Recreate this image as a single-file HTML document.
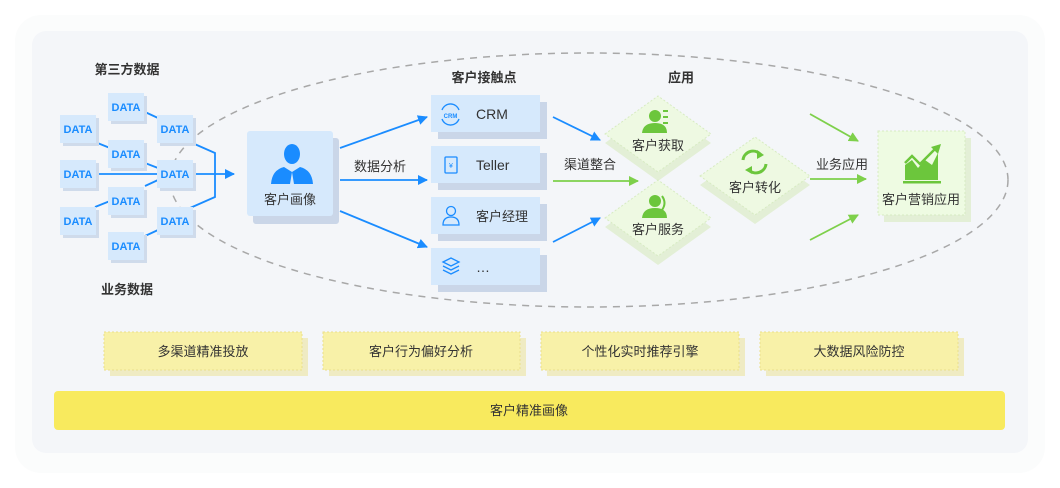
<!DOCTYPE html>
<html><head><meta charset="utf-8"><style>
html,body{margin:0;padding:0;background:#fff;}
svg{display:block;font-family:"Liberation Sans","Noto Sans CJK SC",sans-serif;}
</style></head><body>
<svg width="1060" height="488" viewBox="0 0 1060 488" xmlns="http://www.w3.org/2000/svg">
<defs>
<marker id="ab" markerWidth="10" markerHeight="10" refX="9" refY="5" orient="auto" markerUnits="userSpaceOnUse"><path d="M0,0 L10,5 L0,10 z" fill="#1a8cff"/></marker>
<marker id="ag" markerWidth="10" markerHeight="10" refX="9" refY="5" orient="auto" markerUnits="userSpaceOnUse"><path d="M0,0 L10,5 L0,10 z" fill="#7ed04b"/></marker>
</defs>
<rect x="15" y="15" width="1030" height="458" rx="26" fill="#fbfcfc"/>
<rect x="32" y="31" width="996" height="422" rx="14" fill="#f4f6f9"/>
<ellipse cx="589" cy="180" rx="419" ry="127" fill="none" stroke="#a8a8a8" stroke-width="1.5" stroke-dasharray="7,6"/>

<g font-size="13" font-weight="bold" fill="#333" text-anchor="middle">
<text x="127" y="74">第三方数据</text>
<text x="127" y="294">业务数据</text>
<text x="484" y="82">客户接触点</text>
<text x="681" y="82">应用</text>
</g>

<g stroke="#1a8cff" stroke-width="1.8" fill="none">
<line x1="95" y1="142" x2="110" y2="148"/>
<line x1="95" y1="174" x2="158" y2="174"/>
<line x1="95" y1="207" x2="110" y2="201"/>
<line x1="145" y1="112" x2="158" y2="118"/>
<line x1="145" y1="163" x2="158" y2="168"/>
<line x1="145" y1="186" x2="158" y2="180"/>
<line x1="145" y1="236" x2="158" y2="230"/>
<path d="M190,142 L215,153 L215,197 L190,208"/>
<line x1="193" y1="174" x2="234" y2="174" marker-end="url(#ab)"/>
</g>
<g font-size="11" font-weight="bold" fill="#1a8cff" text-anchor="middle">
<g transform="translate(60,115)"><rect x="3" y="3" width="36" height="28" fill="#cfdbeb"/><rect width="36" height="28" fill="#d6e9fc"/><text x="18" y="18">DATA</text></g>
<g transform="translate(60,160)"><rect x="3" y="3" width="36" height="28" fill="#cfdbeb"/><rect width="36" height="28" fill="#d6e9fc"/><text x="18" y="18">DATA</text></g>
<g transform="translate(60,207)"><rect x="3" y="3" width="36" height="28" fill="#cfdbeb"/><rect width="36" height="28" fill="#d6e9fc"/><text x="18" y="18">DATA</text></g>
<g transform="translate(108,93)"><rect x="3" y="3" width="36" height="28" fill="#cfdbeb"/><rect width="36" height="28" fill="#d6e9fc"/><text x="18" y="18">DATA</text></g>
<g transform="translate(108,140)"><rect x="3" y="3" width="36" height="28" fill="#cfdbeb"/><rect width="36" height="28" fill="#d6e9fc"/><text x="18" y="18">DATA</text></g>
<g transform="translate(108,187)"><rect x="3" y="3" width="36" height="28" fill="#cfdbeb"/><rect width="36" height="28" fill="#d6e9fc"/><text x="18" y="18">DATA</text></g>
<g transform="translate(108,232)"><rect x="3" y="3" width="36" height="28" fill="#cfdbeb"/><rect width="36" height="28" fill="#d6e9fc"/><text x="18" y="18">DATA</text></g>
<g transform="translate(157,115)"><rect x="3" y="3" width="36" height="28" fill="#cfdbeb"/><rect width="36" height="28" fill="#d6e9fc"/><text x="18" y="18">DATA</text></g>
<g transform="translate(157,160)"><rect x="3" y="3" width="36" height="28" fill="#cfdbeb"/><rect width="36" height="28" fill="#d6e9fc"/><text x="18" y="18">DATA</text></g>
<g transform="translate(157,207)"><rect x="3" y="3" width="36" height="28" fill="#cfdbeb"/><rect width="36" height="28" fill="#d6e9fc"/><text x="18" y="18">DATA</text></g>
</g>

<rect x="253" y="138" width="86" height="86" rx="3" fill="#cad6e8"/>
<rect x="247" y="131" width="86" height="85" rx="3" fill="#d6e9fc"/>
<g fill="#1a8cff">
<ellipse cx="292" cy="154" rx="8" ry="10"/>
<path d="M271,184 Q272,170 284,167 L292,172 L300,167 Q312,170 313,184 Z"/>
</g>
<path d="M292,172 L290,184 L294,184 Z" fill="#d6e9fc"/>
<text x="290" y="204" font-size="13" fill="#333" text-anchor="middle">客户画像</text>

<g stroke="#1a8cff" stroke-width="1.8">
<line x1="340" y1="148" x2="427" y2="117" marker-end="url(#ab)"/>
<line x1="340" y1="180" x2="427" y2="180" marker-end="url(#ab)"/>
<line x1="340" y1="211" x2="427" y2="247" marker-end="url(#ab)"/>
<line x1="553" y1="117" x2="600" y2="140" marker-end="url(#ab)"/>
<line x1="553" y1="242" x2="600" y2="218" marker-end="url(#ab)"/>
</g>
<text x="380" y="171" font-size="13" fill="#333" text-anchor="middle">数据分析</text>

<g font-size="14" fill="#333">
<rect x="438" y="102" width="109" height="37" fill="#cad6e8"/><rect x="431" y="95" width="109" height="37" fill="#d6e9fc"/>
<text x="476" y="119">CRM</text>
<rect x="438" y="153" width="109" height="37" fill="#cad6e8"/><rect x="431" y="146" width="109" height="37" fill="#d6e9fc"/>
<text x="476" y="170">Teller</text>
<rect x="438" y="204" width="109" height="37" fill="#cad6e8"/><rect x="431" y="197" width="109" height="37" fill="#d6e9fc"/>
<text x="476" y="221" font-size="13">客户经理</text>
<rect x="438" y="255" width="109" height="37" fill="#cad6e8"/><rect x="431" y="248" width="109" height="37" fill="#d6e9fc"/>
<text x="476" y="272">…</text>
</g>
<g stroke="#1a8cff" stroke-width="1.3" fill="none">
<path d="M442,110 A9,9 0 0 1 459,110"/><path d="M442,119 A9,9 0 0 0 459,119"/>
<rect x="445" y="157" width="12" height="16" rx="1"/>
<circle cx="451" cy="211" r="4.5"/><path d="M443,225 Q443,217 451,217 Q459,217 459,225 Z"/>
<path d="M443,262 L451,258 L459,262 L451,266 Z"/><path d="M443,266 L451,270 L459,266"/><path d="M443,270 L451,274 L459,270"/>
</g>
<text x="450.5" y="118" font-size="6" font-weight="bold" fill="#1a8cff" text-anchor="middle">CRM</text>
<text x="451" y="168" font-size="7" fill="#1a8cff" text-anchor="middle">¥</text>

<line x1="553" y1="181" x2="638" y2="181" stroke="#7ed04b" stroke-width="1.8" marker-end="url(#ag)"/>
<text x="590" y="169" font-size="13" fill="#333" text-anchor="middle">渠道整合</text>

<g>
<path d="M605,143 L658,105 L711,143 L658,181 Z" fill="#e3efd6"/>
<path d="M605,134 L658,96 L711,134 L658,172 Z" fill="#eef9e2" stroke="#d7ebc2" stroke-dasharray="2,2"/>
<path d="M605,227 L658,189 L711,227 L658,265 Z" fill="#e3efd6"/>
<path d="M605,218 L658,180 L711,218 L658,256 Z" fill="#eef9e2" stroke="#d7ebc2" stroke-dasharray="2,2"/>
<path d="M700,185 L755,146 L810,185 L755,224 Z" fill="#e3efd6"/>
<path d="M700,176 L755,137 L810,176 L755,215 Z" fill="#eef9e2" stroke="#d7ebc2" stroke-dasharray="2,2"/>
</g>
<g fill="#6cc63c">
<circle cx="655" cy="116" r="6"/><path d="M642,133 Q643,123 655,123 Q667,123 667,133 Z"/>
<rect x="663" y="110" width="5" height="2"/><rect x="663" y="116" width="5" height="2"/><rect x="663" y="122" width="5" height="2"/>
<circle cx="655" cy="201" r="6"/><path d="M642,218 Q643,208 655,208 Q667,208 667,218 Z"/>
<path d="M662,196 Q667,203 662,210" stroke="#6cc63c" stroke-width="2" fill="none"/>
</g>
<g stroke="#6cc63c" stroke-width="3" fill="none">
<path d="M743,160 A10,10 0 0 1 760,154"/><path d="M766,164 A10,10 0 0 1 749,170"/>
</g>
<path d="M757,150 L764,155 L757,159 Z M752,166 L745,170 L752,174 Z" fill="#6cc63c"/>
<g font-size="13" fill="#333" text-anchor="middle">
<text x="658" y="150">客户获取</text>
<text x="658" y="234">客户服务</text>
<text x="755" y="192">客户转化</text>
</g>

<g stroke="#7ed04b" stroke-width="1.8">
<line x1="810" y1="114" x2="858" y2="141" marker-end="url(#ag)"/>
<line x1="810" y1="179" x2="866" y2="179" marker-end="url(#ag)"/>
<line x1="810" y1="240" x2="858" y2="215" marker-end="url(#ag)"/>
</g>
<text x="842" y="169" font-size="13" fill="#333" text-anchor="middle">业务应用</text>

<rect x="884" y="138" width="87" height="84" fill="#e3efd6"/>
<rect x="878" y="131" width="87" height="84" fill="#eefbe2" stroke="#d7ebc2" stroke-dasharray="2,2"/>
<g fill="#6cc63c">
<path d="M905,180 L905,165 L912,160 L918,168 L925,160 L932,165 L938,153 L938,180 Z"/>
<rect x="903" y="181" width="38" height="2.5"/>
</g>
<path d="M905,163 L912,156 L920,164 L936,148" stroke="#6cc63c" stroke-width="2.5" fill="none"/>
<path d="M931,147 L941,144 L938,154 Z" fill="#6cc63c"/>
<text x="921" y="204" font-size="13" fill="#333" text-anchor="middle">客户营销应用</text>

<g font-size="13" fill="#333" text-anchor="middle">
<rect x="110" y="338" width="198" height="38" fill="#efebc3"/>
<rect x="104" y="332" width="198" height="38" fill="#f8f1a8" stroke="#eadf8c" stroke-dasharray="2,2"/>
<text x="203" y="356">多渠道精准投放</text>
<rect x="329" y="338" width="197" height="38" fill="#efebc3"/>
<rect x="323" y="332" width="197" height="38" fill="#f8f1a8" stroke="#eadf8c" stroke-dasharray="2,2"/>
<text x="421" y="356">客户行为偏好分析</text>
<rect x="547" y="338" width="198" height="38" fill="#efebc3"/>
<rect x="541" y="332" width="198" height="38" fill="#f8f1a8" stroke="#eadf8c" stroke-dasharray="2,2"/>
<text x="640" y="356">个性化实时推荐引擎</text>
<rect x="766" y="338" width="198" height="38" fill="#efebc3"/>
<rect x="760" y="332" width="198" height="38" fill="#f8f1a8" stroke="#eadf8c" stroke-dasharray="2,2"/>
<text x="859" y="356">大数据风险防控</text>
<rect x="54" y="391" width="951" height="39" rx="4" fill="#f8ea5e"/>
<text x="529" y="415">客户精准画像</text>
</g>
</svg>
</body></html>
